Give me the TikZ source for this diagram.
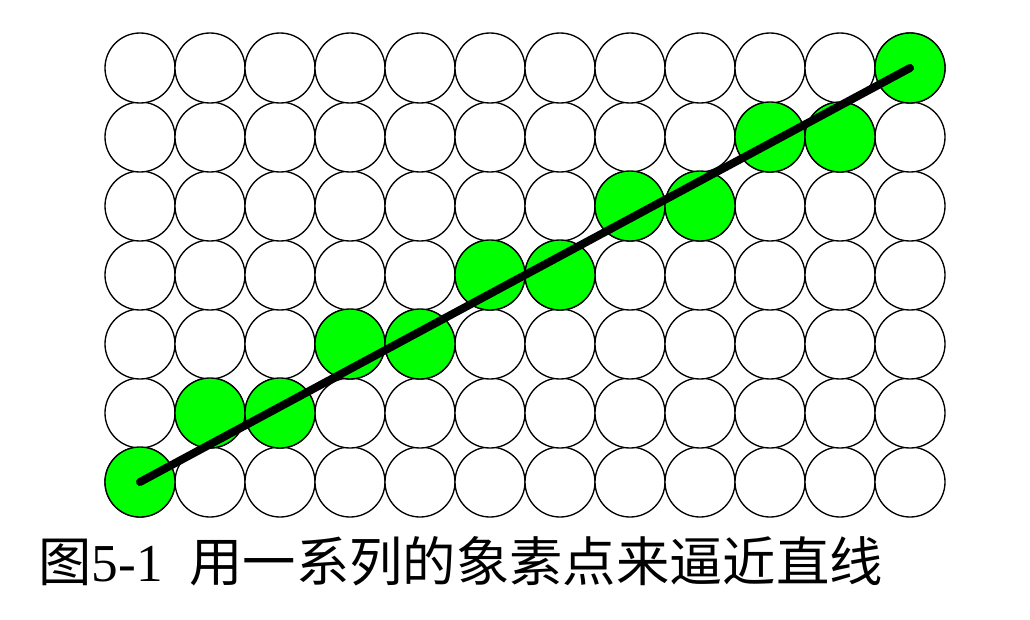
\documentclass[tikz,border=0pt]{standalone}
\usepackage{fontspec}
\setmainfont{Liberation Serif}
\newfontfamily\cjk{Noto Sans CJK SC}
\definecolor{pixgreen}{RGB}{0,255,0}
\begin{document}
\begin{tikzpicture}[x=0.75pt,y=0.75pt]
\useasboundingbox (0,0) rectangle (1030,619);
\pgfmathsetmacro{\dx}{70};
\pgfmathsetmacro{\dy}{69};
\tikzset{pix/.style={circle, draw, line width=1pt, minimum size=52.5pt, inner sep=0pt, fill=white}}
\foreach \i in {0,...,11} {
  \foreach \j in {0,...,6} {
    \node[pix] (c-\i-\j) at ({140+\i*\dx},{137+\j*\dy}) {};
  }
}
\foreach \i/\j in {0/0,1/1,2/1,3/2,4/2,5/3,6/3,7/4,8/4,9/5,10/5,11/6}
  \node[pix, fill=pixgreen] (g-\i-\j) at (c-\i-\j) {};
\draw[line width=6pt, line cap=round] (c-0-0.center) -- (c-11-6.center);
\node[anchor=base west, inner sep=0pt, font=\fontsize{40pt}{48pt}\selectfont] (cap) at (38,38)
  {{\cjk 图}5-1\hspace{20pt}{\cjk 用一系列的象素点来逼近直线}};
\end{tikzpicture}
\end{document}
